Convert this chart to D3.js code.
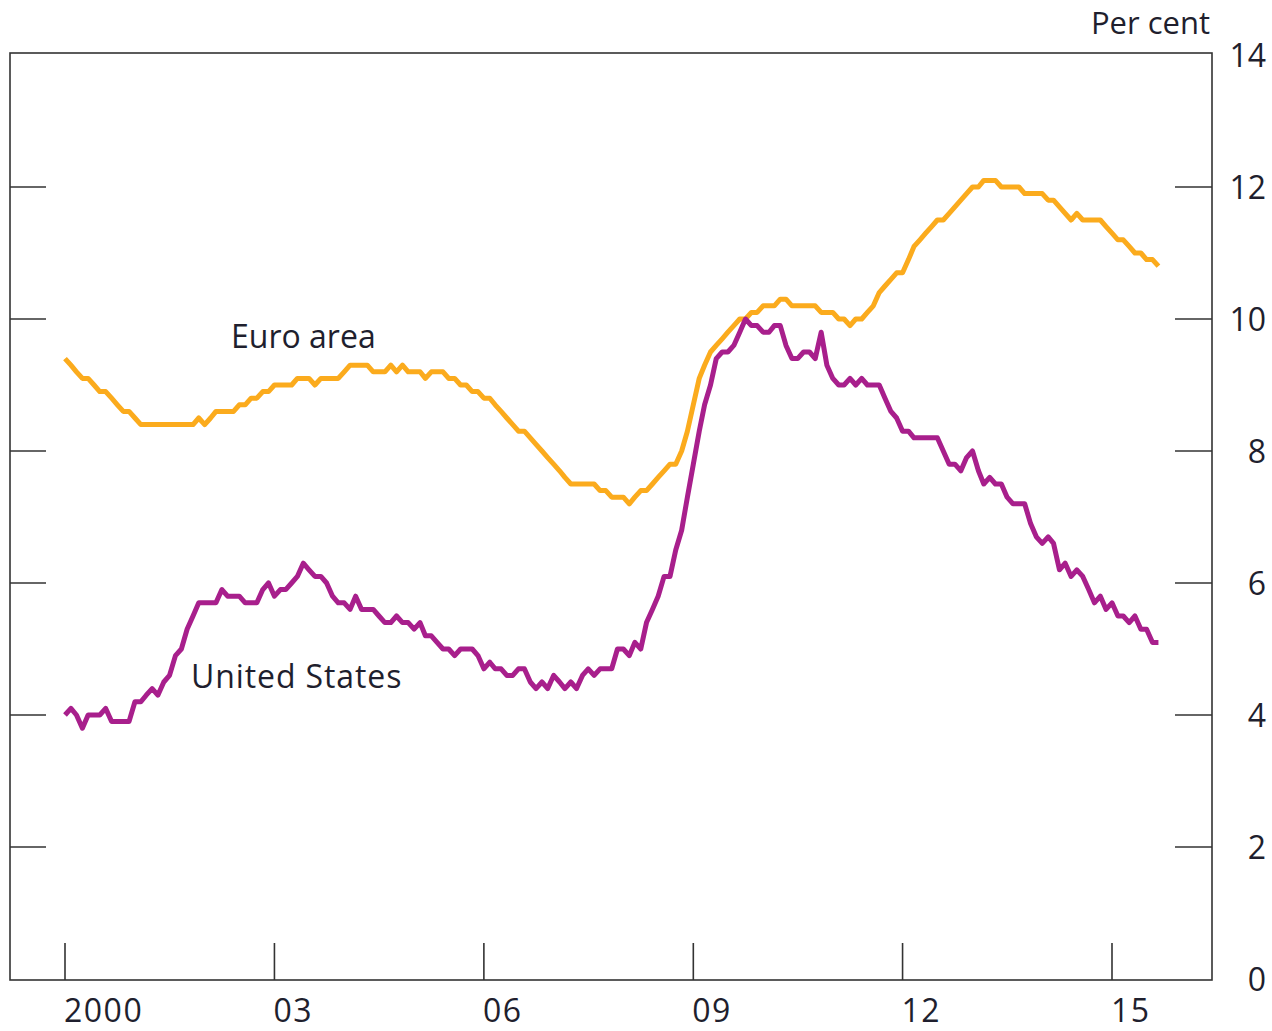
<!DOCTYPE html>
<html>
<head>
<meta charset="utf-8">
<script src="https://cdn.jsdelivr.net/npm/d3@7"></script>
<style>
  body { margin: 0; background: #fff; }
  text { font-family: "Open Sans", sans-serif; fill: #1f1f2e; }
</style>
</head>
<body>
<div id="chart"></div>
<script>
// monthly unemployment rates, Jan 2000 - Sep 2015 (per cent)
const usRate = [
  4.0, 4.1, 4.0, 3.8, 4.0, 4.0, 4.0, 4.1, 3.9, 3.9, 3.9, 3.9,
  4.2, 4.2, 4.3, 4.4, 4.3, 4.5, 4.6, 4.9, 5.0, 5.3, 5.5, 5.7,
  5.7, 5.7, 5.7, 5.9, 5.8, 5.8, 5.8, 5.7, 5.7, 5.7, 5.9, 6.0,
  5.8, 5.9, 5.9, 6.0, 6.1, 6.3, 6.2, 6.1, 6.1, 6.0, 5.8, 5.7,
  5.7, 5.6, 5.8, 5.6, 5.6, 5.6, 5.5, 5.4, 5.4, 5.5, 5.4, 5.4,
  5.3, 5.4, 5.2, 5.2, 5.1, 5.0, 5.0, 4.9, 5.0, 5.0, 5.0, 4.9,
  4.7, 4.8, 4.7, 4.7, 4.6, 4.6, 4.7, 4.7, 4.5, 4.4, 4.5, 4.4,
  4.6, 4.5, 4.4, 4.5, 4.4, 4.6, 4.7, 4.6, 4.7, 4.7, 4.7, 5.0,
  5.0, 4.9, 5.1, 5.0, 5.4, 5.6, 5.8, 6.1, 6.1, 6.5, 6.8, 7.3,
  7.8, 8.3, 8.7, 9.0, 9.4, 9.5, 9.5, 9.6, 9.8, 10.0, 9.9, 9.9,
  9.8, 9.8, 9.9, 9.9, 9.6, 9.4, 9.4, 9.5, 9.5, 9.4, 9.8, 9.3,
  9.1, 9.0, 9.0, 9.1, 9.0, 9.1, 9.0, 9.0, 9.0, 8.8, 8.6, 8.5,
  8.3, 8.3, 8.2, 8.2, 8.2, 8.2, 8.2, 8.0, 7.8, 7.8, 7.7, 7.9,
  8.0, 7.7, 7.5, 7.6, 7.5, 7.5, 7.3, 7.2, 7.2, 7.2, 6.9, 6.7,
  6.6, 6.7, 6.6, 6.2, 6.3, 6.1, 6.2, 6.1, 5.9, 5.7, 5.8, 5.6,
  5.7, 5.5, 5.5, 5.4, 5.5, 5.3, 5.3, 5.1, 5.1
];

const euroRate = [
  9.4, 9.3, 9.2, 9.1, 9.1, 9.0, 8.9, 8.9, 8.8, 8.7, 8.6, 8.6,
  8.5, 8.4, 8.4, 8.4, 8.4, 8.4, 8.4, 8.4, 8.4, 8.4, 8.4, 8.5,
  8.4, 8.5, 8.6, 8.6, 8.6, 8.6, 8.7, 8.7, 8.8, 8.8, 8.9, 8.9,
  9.0, 9.0, 9.0, 9.0, 9.1, 9.1, 9.1, 9.0, 9.1, 9.1, 9.1, 9.1,
  9.2, 9.3, 9.3, 9.3, 9.3, 9.2, 9.2, 9.2, 9.3, 9.2, 9.3, 9.2,
  9.2, 9.2, 9.1, 9.2, 9.2, 9.2, 9.1, 9.1, 9.0, 9.0, 8.9, 8.9,
  8.8, 8.8, 8.7, 8.6, 8.5, 8.4, 8.3, 8.3, 8.2, 8.1, 8.0, 7.9,
  7.8, 7.7, 7.6, 7.5, 7.5, 7.5, 7.5, 7.5, 7.4, 7.4, 7.3, 7.3,
  7.3, 7.2, 7.3, 7.4, 7.4, 7.5, 7.6, 7.7, 7.8, 7.8, 8.0, 8.3,
  8.7, 9.1, 9.3, 9.5, 9.6, 9.7, 9.8, 9.9, 10.0, 10.0, 10.1, 10.1,
  10.2, 10.2, 10.2, 10.3, 10.3, 10.2, 10.2, 10.2, 10.2, 10.2, 10.1, 10.1,
  10.1, 10.0, 10.0, 9.9, 10.0, 10.0, 10.1, 10.2, 10.4, 10.5, 10.6, 10.7,
  10.7, 10.9, 11.1, 11.2, 11.3, 11.4, 11.5, 11.5, 11.6, 11.7, 11.8, 11.9,
  12.0, 12.0, 12.1, 12.1, 12.1, 12.0, 12.0, 12.0, 12.0, 11.9, 11.9, 11.9,
  11.9, 11.8, 11.8, 11.7, 11.6, 11.5, 11.6, 11.5, 11.5, 11.5, 11.5, 11.4,
  11.3, 11.2, 11.2, 11.1, 11.0, 11.0, 10.9, 10.9, 10.8
];

const yTickValues = [0, 2, 4, 6, 8, 10, 12, 14];
const yearTicks = [2000, 2003, 2006, 2009, 2012, 2015];
const yearLabels = ["2000", "03", "06", "09", "12", "15"];

const W = 1272, H = 1031;
const frame = { left: 10, right: 1212, top: 53, bottom: 980 };

const svg = d3.select("#chart")
  .append("svg")
  .attr("width", W)
  .attr("height", H);

const months = d3.range(usRate.length).map(i => new Date(2000, i, 1));

const x = d3.scaleTime()
  .domain([new Date(2000, 0, 1), new Date(2015, 0, 1)])
  .range([65, 1112]);

const y = d3.scaleLinear()
  .domain([0, 14])
  .range([979, 55]);

// frame
svg.append("rect")
  .attr("x", frame.left)
  .attr("y", frame.top)
  .attr("width", frame.right - frame.left)
  .attr("height", frame.bottom - frame.top)
  .attr("fill", "none")
  .attr("stroke", "#333")
  .attr("stroke-width", 1.6);

// inner ticks on both sides
const inner = yTickValues.filter(v => v > 0 && v < 14);
svg.append("g").selectAll("line")
  .data(inner)
  .join("line")
  .attr("x1", frame.left).attr("x2", frame.left + 36)
  .attr("y1", d => y(d)).attr("y2", d => y(d))
  .attr("stroke", "#333").attr("stroke-width", 1.6);

svg.append("g").selectAll("line")
  .data(inner)
  .join("line")
  .attr("x1", frame.right - 37).attr("x2", frame.right)
  .attr("y1", d => y(d)).attr("y2", d => y(d))
  .attr("stroke", "#333").attr("stroke-width", 1.6);

// right axis labels
svg.append("g").selectAll("text")
  .data(yTickValues)
  .join("text")
  .attr("x", 1266)
  .attr("y", d => y(d))
  .attr("dy", "0.36em")
  .attr("text-anchor", "end")
  .attr("font-size", 32)
  .text(d => d);

svg.append("text")
  .attr("x", 1210)
  .attr("y", 34)
  .attr("text-anchor", "end")
  .attr("font-size", 31)
  .text("Per cent");

// year ticks
svg.append("g").selectAll("line")
  .data(yearTicks)
  .join("line")
  .attr("x1", d => x(new Date(d, 0, 1))).attr("x2", d => x(new Date(d, 0, 1)))
  .attr("y1", frame.bottom - 37).attr("y2", frame.bottom)
  .attr("stroke", "#333").attr("stroke-width", 1.6);

svg.append("g").selectAll("text")
  .data(yearTicks)
  .join("text")
  .attr("x", d => x(new Date(d, 0, 1)) - 1)
  .attr("y", 1022)
  .attr("font-size", 32)
  .attr("letter-spacing", 1.5)
  .text((d, i) => yearLabels[i]);

// series lines
const line = d3.line()
  .x((d, i) => x(months[i]))
  .y(d => y(d));

svg.append("path")
  .datum(euroRate)
  .attr("d", line)
  .attr("fill", "none")
  .attr("stroke", "#fbab1d")
  .attr("stroke-width", 5)
  .attr("stroke-linejoin", "round");

svg.append("path")
  .datum(usRate)
  .attr("d", line)
  .attr("fill", "none")
  .attr("stroke", "#a81f8c")
  .attr("stroke-width", 5)
  .attr("stroke-linejoin", "round");

// series labels
svg.append("text")
  .attr("x", 231).attr("y", 348)
  .attr("font-size", 32)
  .text("Euro area");

svg.append("text")
  .attr("x", 191).attr("y", 688)
  .attr("font-size", 32)
  .attr("letter-spacing", 0.9)
  .text("United States");
</script>
</body>
</html>
